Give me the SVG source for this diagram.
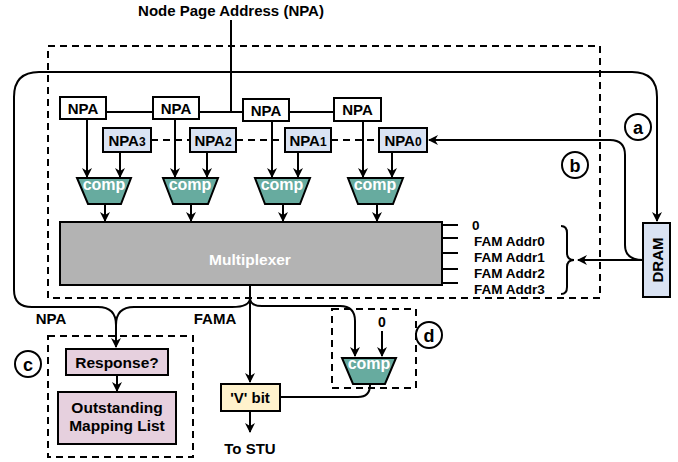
<svg xmlns="http://www.w3.org/2000/svg" width="678" height="462" viewBox="0 0 678 462">
<defs>
<marker id="ah" viewBox="0 0 10 10" refX="9" refY="5" markerWidth="5" markerHeight="5" orient="auto-start-reverse" markerUnits="strokeWidth">
<path d="M0,0 L10,5 L0,10 L3,5 Z" fill="#000"/>
</marker>
<style>
text{font-family:"Liberation Sans",Arial,sans-serif;font-weight:bold;fill:#000}
.w{fill:#fff}
.box{stroke:#000;stroke-width:2}
.npa{fill:#fff}
.npx{fill:#dae3f3}
.comp{fill:#67ab9f;stroke:#000;stroke-width:2}
.ln{fill:none;stroke:#000;stroke-width:2}
.arr{fill:none;stroke:#000;stroke-width:2;marker-end:url(#ah)}
.dash{fill:none;stroke:#000;stroke-width:2;stroke-dasharray:7 5}
.circ{fill:#fff;stroke:#000;stroke-width:2}
.fam{font-size:13.5px}
</style>
</defs>
<rect width="678" height="462" fill="#fff"/>

<g id="regions">
<rect class="dash" x="48" y="46" width="552" height="252"/>
<rect class="dash" x="48" y="336" width="145" height="121"/>
<rect class="dash" x="332" y="309" width="84" height="79"/>
</g>

<g id="connectors">
<path class="ln" d="M231,20 V112"/>
<path class="ln" d="M106,112 H153 M199,112 H243 M289,112 H334"/>
<path class="dash" d="M151,140 H190 M236,140 H285 M331,140 H379"/>
<path class="arr" d="M87,119 V177"/>
<path class="arr" d="M120,152 V177"/>
<path class="arr" d="M175,119 V177"/>
<path class="arr" d="M207,152 V177"/>
<path class="arr" d="M272,121 V177"/>
<path class="arr" d="M298,152 V177"/>
<path class="arr" d="M363,121 V177"/>
<path class="arr" d="M392,152 V177"/>
<path class="arr" d="M105,204 V221"/>
<path class="arr" d="M191,204 V221"/>
<path class="arr" d="M283,204 V221"/>
<path class="arr" d="M377,204 V221"/>
<path class="ln" d="M442,225 H458 M442,238 H458 M442,253 H458 M442,269 H458 M442,283 H458"/>
<path class="ln" d="M561,226 Q567,226 567,233 V253 Q567,260 574,260 Q567,260 567,267 V287 Q567,294 561,294" stroke-width="1.8"/>
<path class="arr" d="M14,200 V97 Q14,72 39,72 H632 Q657,72 657,97 V221"/>
<path class="arr" d="M14,200 V290 Q14,307 32,307 H98 Q116,307 116,325 V347"/>
<path class="ln" d="M250,285 V298 Q250,307 232,307 H134 Q116,307 116,325"/>
<path class="arr" d="M250,285 V382"/>
<path class="arr" d="M250,298 Q250,306 262,306 H340 Q355,306 355,321 V356"/>
<path class="arr" d="M382,331 V356"/>
<path class="arr" d="M250,411 V432"/>
<path class="ln" d="M280,397 H358 Q370,397 370,385"/>
<path class="arr" d="M117,375 V391"/>
<path class="arr" d="M643,260 H578"/>
<path class="arr" d="M643,260 Q625,260 625,245 V155 Q625,140 610,140 H429"/>
</g>

<g id="title"><text x="231" y="16" font-size="15" text-anchor="middle">Node Page Address (NPA)</text></g>

<g id="npa-a"><rect class="box npa" x="60" y="97" width="46" height="22"/><text x="83" y="113.5" font-size="15" text-anchor="middle">NPA</text></g>
<g id="npa-b"><rect class="box npa" x="153" y="97" width="46" height="22"/><text x="176" y="113.5" font-size="15" text-anchor="middle">NPA</text></g>
<g id="npa-c"><rect class="box npa" x="243" y="99" width="46" height="22"/><text x="266" y="115.5" font-size="15" text-anchor="middle">NPA</text></g>
<g id="npa-d"><rect class="box npa" x="334" y="98" width="47" height="23"/><text x="357.5" y="115" font-size="15" text-anchor="middle">NPA</text></g>

<g id="npa3"><rect class="box npx" x="103" y="128" width="48" height="24"/><text x="127" y="145.5" font-size="15" text-anchor="middle">NPA<tspan font-size="12">3</tspan></text></g>
<g id="npa2"><rect class="box npx" x="190" y="128" width="46" height="24"/><text x="213" y="145.5" font-size="15" text-anchor="middle">NPA<tspan font-size="12">2</tspan></text></g>
<g id="npa1"><rect class="box npx" x="285" y="128" width="46" height="24"/><text x="308" y="145.5" font-size="15" text-anchor="middle">NPA<tspan font-size="12">1</tspan></text></g>
<g id="npa0"><rect class="box npx" x="379" y="128" width="48" height="24"/><text x="403" y="145.5" font-size="15" text-anchor="middle">NPA<tspan font-size="12">0</tspan></text></g>

<g id="comp1"><path class="comp" d="M77,178 H131 L121,204 H88 Z"/><text class="w" x="104" y="190" font-size="16" text-anchor="middle">comp</text></g>
<g id="comp2"><path class="comp" d="M163,178 H218 L208,204 H173 Z"/><text class="w" x="190" y="190" font-size="16" text-anchor="middle">comp</text></g>
<g id="comp3"><path class="comp" d="M255,178 H310 L300,204 H265 Z"/><text class="w" x="282" y="190" font-size="16" text-anchor="middle">comp</text></g>
<g id="comp4"><path class="comp" d="M348,178 H403 L393,204 H358 Z"/><text class="w" x="375" y="190" font-size="16" text-anchor="middle">comp</text></g>

<g id="mux"><rect class="box" x="60" y="222" width="382" height="63" fill="#b3b3b3"/><text class="w" x="250" y="265" font-size="15.5" text-anchor="middle">Multiplexer</text></g>

<g id="mux-labels">
<text x="472" y="230" font-size="13.5">0</text>
<text class="fam" x="474" y="246">FAM Addr0</text>
<text class="fam" x="474" y="262">FAM Addr1</text>
<text class="fam" x="474" y="278">FAM Addr2</text>
<text class="fam" x="474" y="294">FAM Addr3</text>
</g>

<g id="dram"><rect class="box npx" x="643" y="223" width="27" height="74"/><text x="657" y="260" font-size="15" text-anchor="middle" dominant-baseline="central" transform="rotate(-90 657 260)">DRAM</text></g>

<g id="response"><rect class="box" x="66" y="349" width="102" height="26" fill="#e6d0de"/><text x="117" y="367.5" font-size="15.5" text-anchor="middle">Response?</text></g>
<g id="oml"><rect class="box" x="58" y="392" width="118" height="52" fill="#e6d0de"/><text x="117" y="412.5" font-size="15.5" text-anchor="middle">Outstanding</text><text x="117" y="430.5" font-size="15.5" text-anchor="middle">Mapping List</text></g>

<g id="vbit"><rect class="box" x="221" y="384" width="59" height="27" fill="#fff2cc"/><text x="250" y="403" font-size="15" text-anchor="middle">'V' bit</text></g>
<g id="tostu"><text x="250" y="454" font-size="15" text-anchor="middle">To STU</text></g>

<g id="compd"><path class="comp" d="M342,358 H396 L385,384 H353 Z"/><text class="w" x="369" y="369" font-size="16" text-anchor="middle">comp</text></g>
<g id="zero-d"><text x="382" y="327" font-size="14" text-anchor="middle">0</text></g>

<g id="edge-labels">
<text x="51" y="323.5" font-size="15" text-anchor="middle">NPA</text>
<text x="215" y="323.5" font-size="15" text-anchor="middle">FAMA</text>
</g>

<g id="tag-a"><circle class="circ" cx="638" cy="127" r="13"/><text x="638" y="133.5" font-size="18" text-anchor="middle">a</text></g>
<g id="tag-b"><circle class="circ" cx="575" cy="165" r="13"/><text x="575" y="171.5" font-size="18" text-anchor="middle">b</text></g>
<g id="tag-c"><circle class="circ" cx="28" cy="364" r="13"/><text x="28" y="370.5" font-size="18" text-anchor="middle">c</text></g>
<g id="tag-d"><circle class="circ" cx="429" cy="335" r="13"/><text x="429" y="341.5" font-size="18" text-anchor="middle">d</text></g>
</svg>
